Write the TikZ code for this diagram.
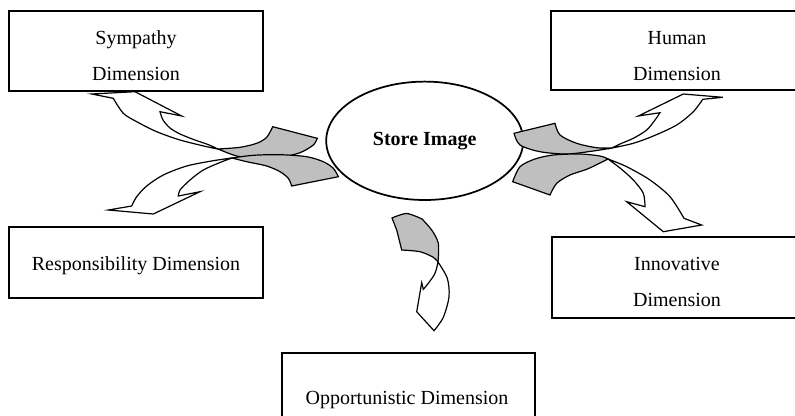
\documentclass[tikz,border=0pt]{standalone}
\usepackage{fontspec}
\setmainfont{Liberation Serif}
\usepackage{tikz}
\usetikzlibrary{shapes.geometric}

\newcommand{\dimfont}{\fontsize{15}{27}\selectfont}

\tikzset{
  dimbox/.style={draw, line width=1.4pt, fill=white, inner sep=0pt},
  dimtext/.style={font=\dimfont, align=center, inner sep=0pt},
  arrowface/.style={draw=black, line width=0.9pt, fill=white, line join=miter},
  arrowback/.style={draw=black, line width=0.9pt, fill=black!25, line join=miter},
}

\begin{document}
\begin{tikzpicture}[x=0.75pt, y=-0.75pt]
  \useasboundingbox (0,0) rectangle (795,415);
  \clip (0,0) rectangle (795,415);

  % Centre
  \node[draw, ellipse, line width=1.3pt, minimum width=147.75pt, minimum height=88.8pt,
        font=\dimfont\bfseries] (storeImg) at (424.7,140.8) {Store Image};

  % Curved arrow to Sympathy
  \coordinate (xA) at (218,149);
  \filldraw[arrowface] plot[smooth] coordinates {(xA) (206.7,146.7) (180,140) (156.7,131.7) (136.7,121.7) (123.3,113.3) (113.3,98.3)}
    -- (91.7,94) -- (135,91.7) -- (181.7,116) -- (160,111.7)
    -- plot[smooth] coordinates {(160,111.7) (163,120) (170,128) (180,134) (195,140) (208,144.5) (xA)} -- cycle;
  \filldraw[arrowback] plot[smooth] coordinates {(xA) (240,147.3) (256.7,143.3) (266.7,137.3) (272.7,126.7)}
    -- (317.3,138.3)
    -- plot[smooth] coordinates {(317.3,138.3) (313.3,145) (300,152.7) (280,157.3) (256.7,158.3) (236.7,156) (xA)} -- cycle;

  % Curved arrow to Responsibility
  \coordinate (xB) at (232,158);
  \filldraw[arrowface] plot[smooth] coordinates {(xB) (213.3,160.7) (186.7,166) (163.3,175) (146.7,186) (136.7,196.7) (131.7,206)}
    -- (108.3,210) -- (153.3,214) -- (200,191.7) -- (178.3,196)
    -- plot[smooth] coordinates {(178.3,196) (180,190) (190,180) (203.3,170) (220,162.5) (xB)} -- cycle;
  \filldraw[arrowback] plot[smooth] coordinates {(xB) (253.3,155.3) (280,154.7) (306.7,156.7) (323.3,161.7) (333.3,168.3) (338.3,176.7)}
    -- (291.7,186)
    -- plot[smooth] coordinates {(291.7,186) (288.3,178.3) (280,171.7) (266.7,166) (246.7,161.7) (xB)} -- cycle;

  % Curved arrow to Human
  \coordinate (xC) at (612,148);
  \filldraw[arrowface] plot[smooth] coordinates {(xC) (633.3,143.3) (653.3,136) (676.7,125) (693.3,111.7) (702.7,99.3)}
    -- (722.7,97.3) -- (683.3,94) -- (638.3,116) -- (660,112.7)
    -- plot[smooth] coordinates {(660,112.7) (655,120) (646.7,130) (633.3,138.3) (620,144) (xC)} -- cycle;
  \filldraw[arrowback] plot[smooth] coordinates {(xC) (596.7,147.7) (576.7,143.3) (560,135) (555,123.3)}
    -- (514,133.3)
    -- plot[smooth] coordinates {(514,133.3) (520,145) (540,151.7) (566.7,154) (593.3,151) (xC)} -- cycle;

  % Curved arrow to Innovative
  \coordinate (xD) at (608,159);
  \filldraw[arrowface] plot[smooth] coordinates {(xD) (626.7,166.7) (650,180) (670,196.7) (684,218.3)}
    -- (701.7,225) -- (663.3,231.7) -- (626.7,201.7) -- (645,206.7)
    -- plot[smooth] coordinates {(645,206.7) (643.3,193.3) (633.3,180) (620,168) (xD)} -- cycle;
  \filldraw[arrowback] plot[smooth] coordinates {(xD) (600,156) (580,154) (553.3,155) (535,159) (520,166.7) (512.7,181.7)}
    -- (550,195)
    -- plot[smooth] coordinates {(550,195) (556.7,183.3) (570,175) (586.7,169.3) (600,163) (xD)} -- cycle;

  % Curved arrow to Opportunistic
  \coordinate (xE) at (438,262);
  \filldraw[arrowface] plot[smooth] coordinates {(xE) (447.3,278.3) (449,296.7) (443.3,317.3) (434,330.7)}
    -- (416.7,311.7) -- (421.7,282.7) -- (423.3,289.3)
    -- plot[smooth] coordinates {(423.3,289.3) (428.3,283.3) (435,273.3) (xE)} -- cycle;
  \filldraw[arrowback] plot[smooth] coordinates {(xE) (438.3,243.3) (431.7,230) (422,219)}
    -- plot[smooth] coordinates {(422,219) (406.7,213.5) (392,218)}
    -- (396.7,230) -- (401.7,250)
    -- plot[smooth] coordinates {(401.7,250) (420,251.7) (433.3,257.3) (xE)} -- cycle;

  % Dimension boxes
  \node[dimbox, minimum width=190.5pt, minimum height=60pt] (sympBox) at (136,51) {};
  \node[dimtext] (sympText) at (136,56) {Sympathy\\Dimension};

  \node[dimbox, minimum width=189pt, minimum height=59.25pt] (humBox) at (677,50.5) {};
  \node[dimtext] (humText) at (677,56) {Human\\Dimension};

  \node[dimbox, minimum width=190.5pt, minimum height=53.25pt] (respBox) at (136,262.5) {};
  \node[dimtext] (respText) at (136,266) {Responsibility Dimension};

  \node[dimbox, minimum width=188.25pt, minimum height=60.75pt] (innoBox) at (677.5,277.5) {};
  \node[dimtext] (innoText) at (677,282) {Innovative\\Dimension};

  \node[dimbox, minimum width=189.75pt, minimum height=57.75pt] (oppBox) at (408.5,391.5) {};
  \node[dimtext] (oppText) at (407,400.4) {Opportunistic Dimension};
\end{tikzpicture}
\end{document}
